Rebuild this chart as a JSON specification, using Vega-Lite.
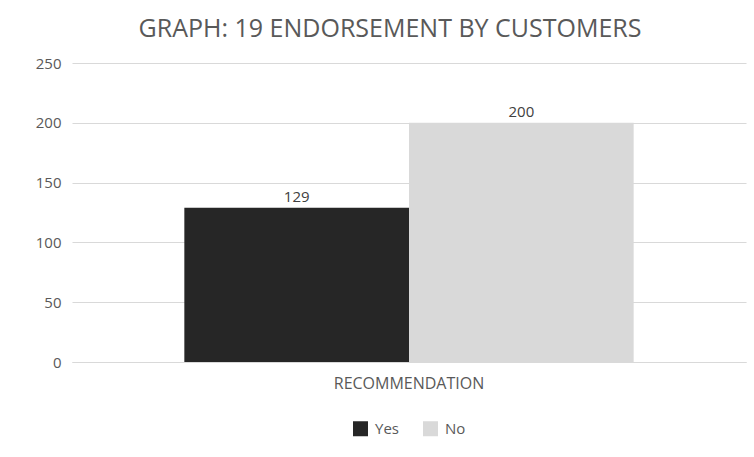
{
  "$schema": "https://vega.github.io/schema/vega-lite/v6.json",
  "autosize": "none",
  "width": 674,
  "height": 299,
  "padding": {"left": 72, "top": 63, "right": 8, "bottom": 95},
  "background": "white",
  "title": {
    "text": "GRAPH: 19 ENDORSEMENT BY CUSTOMERS",
    "anchor": "middle",
    "frame": "group",
    "dx": -19,
    "offset": 14,
    "font": "Open Sans",
    "fontSize": 25,
    "fontWeight": "normal",
    "color": "#595959"
  },
  "data": {
    "values": [
      {"category": "RECOMMENDATION", "answer": "Yes", "count": 129},
      {"category": "RECOMMENDATION", "answer": "No", "count": 200}
    ]
  },
  "encoding": {
    "x": {
      "field": "category",
      "type": "nominal",
      "title": null,
      "scale": {"paddingInner": 0, "paddingOuter": 0.25},
      "axis": {
        "labelAngle": 0,
        "ticks": false,
        "domainColor": "#d9d9d9",
        "labelFont": "Open Sans",
        "labelFontSize": 16,
        "labelColor": "#595959",
        "labelPadding": 13
      }
    },
    "xOffset": {
      "field": "answer",
      "type": "nominal",
      "sort": ["Yes", "No"],
      "scale": {"paddingInner": 0, "paddingOuter": 0}
    },
    "y": {
      "field": "count",
      "type": "quantitative",
      "title": null,
      "scale": {"domain": [0, 250]},
      "axis": {
        "values": [0, 50, 100, 150, 200, 250],
        "domain": false,
        "ticks": false,
        "gridColor": "#d9d9d9",
        "labelFont": "Open Sans",
        "labelFontSize": 15,
        "labelColor": "#595959",
        "labelPadding": 11
      }
    }
  },
  "layer": [
    {
      "mark": {"type": "bar"},
      "encoding": {
        "color": {
          "field": "answer",
          "type": "nominal",
          "sort": ["Yes", "No"],
          "scale": {"domain": ["Yes", "No"], "range": ["#262626", "#d9d9d9"]},
          "legend": {
            "title": null,
            "orient": "bottom",
            "direction": "horizontal",
            "symbolType": "square",
            "symbolSize": 225,
            "symbolStrokeWidth": 0,
            "labelFont": "Open Sans",
            "labelFontSize": 15,
            "labelColor": "#595959",
            "columnPadding": 24,
            "labelOffset": 7,
            "offset": 30
          }
        }
      }
    },
    {
      "mark": {"type": "text", "dy": -11, "font": "Open Sans", "fontSize": 15, "color": "#404040"},
      "encoding": {
        "text": {"field": "count", "type": "quantitative"}
      }
    }
  ],
  "config": {
    "view": {"stroke": null},
    "legend": {"layout": {"bottom": {"anchor": "middle"}}}
  }
}
